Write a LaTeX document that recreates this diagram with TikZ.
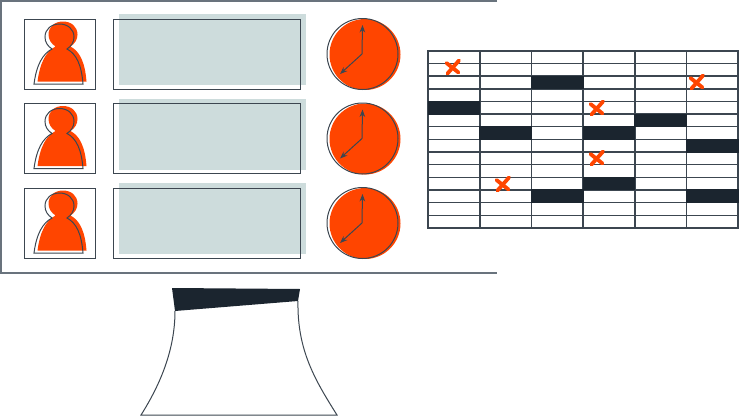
\documentclass[tikz,border=0pt]{standalone}
\usetikzlibrary{arrows.meta, positioning}
\definecolor{inkcolor}{RGB}{27,37,47}
\definecolor{redcolor}{RGB}{255,69,0}
\definecolor{panelcolor}{RGB}{205,220,220}
\definecolor{framecolor}{RGB}{105,115,125}
\definecolor{gridcolor}{RGB}{60,70,80}
\newcommand*{\personshape}{(-25.5,30) .. controls (-23,11) and (-17,0) .. (-7.5,-5)
    .. controls (-12,-8) and (-14.5,-12) .. (-14.5,-17)
    .. controls (-14.5,-25) and (-8,-30) .. (0,-30)
    .. controls (8,-30) and (14.5,-25) .. (14.5,-17)
    .. controls (14.5,-12) and (12,-8) .. (7.5,-5)
    .. controls (17,0) and (22,11) .. (23.5,30) -- cycle}

\begin{document}
\begin{tikzpicture}[x=1pt, y=-1pt, >=Stealth, line width=1pt,
    userbox/.style={draw=gridcolor, minimum width=71pt, minimum height=70pt, inner sep=0pt},
    textbox/.style={draw=gridcolor, minimum width=187pt, minimum height=70pt, inner sep=0pt},
    panel/.style={fill=panelcolor, minimum width=186.5pt, minimum height=71pt, inner sep=0pt},
    dial/.style={circle, draw=gridcolor, minimum size=71pt, inner sep=0pt},
    dialfill/.style={circle, fill=redcolor, minimum size=71pt, inner sep=0pt},
    cell/.style={draw=gridcolor, line width=1.4pt, minimum width=51.67pt, minimum height=12.64pt, inner sep=0pt},
    darkcell/.style={draw=inkcolor, fill=inkcolor, line width=1pt, minimum width=51.67pt, minimum height=12.64pt, inner sep=0pt},
    hand/.style={->, gridcolor, line width=1pt},
    cross/.style={redcolor, line width=3.8pt, line cap=round}]
    \useasboundingbox (0,0) rectangle (740,418);

    % screen
    \coordinate (topright) at (497,1);
    \coordinate (topleft) at (1,1);
    \coordinate (bottomleft) at (1,273);
    \coordinate (bottomright) at (497,273);
    \draw[framecolor, line width=1.8pt] (topright) -- (topleft) -- (bottomleft) -- (bottomright);

    % rows
    \foreach \row/\ypos in {a/54, b/138.5, c/223} {
      \node[panel] (panel\row) at (212.5,\ypos-4.5) {};
      \node[userbox] (user\row) at (59.5,\ypos) {};
      \node[textbox] (text\row) at (206.5,\ypos) {};
      \fill[redcolor, shift={(63,\ypos-2.5)}] \personshape;
      \draw[gridcolor, shift={(59.5,\ypos)}] \personshape;
      \node[dialfill] (face\row) at (365,\ypos+0.5) {};
      \node[dial] (clock\row) at (362.5,\ypos) {};
      \coordinate (hub\row) at (362,\ypos);
      \coordinate (twelve\row) at (362.5,\ypos-29);
      \coordinate (seven\row) at (340,\ypos+20);
      \draw[hand] (hub\row) -- (twelve\row);
      \draw[hand] (hub\row) -- (seven\row);
    }

    % table
    \foreach \r in {0,...,13} {
      \foreach \c in {0,...,5} {
        \node[cell] (cell\r-\c) at (454+51.67*\c,57.2+12.64*\r) {};
      }
    }
    \foreach \r/\c in {2/2, 4/0, 5/4, 6/1, 6/3, 7/5, 10/3, 11/2, 11/5} {
      \node[darkcell] at (cell\r-\c) {};
    }

    % marks
    \foreach \xpos/\ypos [count=\i] in {453/67, 697/82, 597/108, 597/158, 503/184} {
      \coordinate (mark\i) at (\xpos,\ypos);
      \draw[cross] ([shift={(-5.5,6.5)}]mark\i) -- ([shift={(6,-6.5)}]mark\i);
      \draw[cross] ([shift={(-6.5,-4)}]mark\i) -- ([shift={(5.5,5.5)}]mark\i);
    }

    % stand
    \coordinate (collarA) at (172,288);
    \coordinate (collarB) at (300,289);
    \coordinate (collarC) at (298,301);
    \coordinate (collarD) at (175,311);
    \coordinate (footA) at (141,415);
    \coordinate (footB) at (337,415);
    \fill[inkcolor] (collarA) -- (collarB) -- (collarC) -- (collarD) -- cycle;
    \draw[gridcolor] (collarD) .. controls (175,350) and (160,385) .. (footA) -- (footB)
        .. controls (315,380) and (297,350) .. (collarC);
\end{tikzpicture}
\end{document}
